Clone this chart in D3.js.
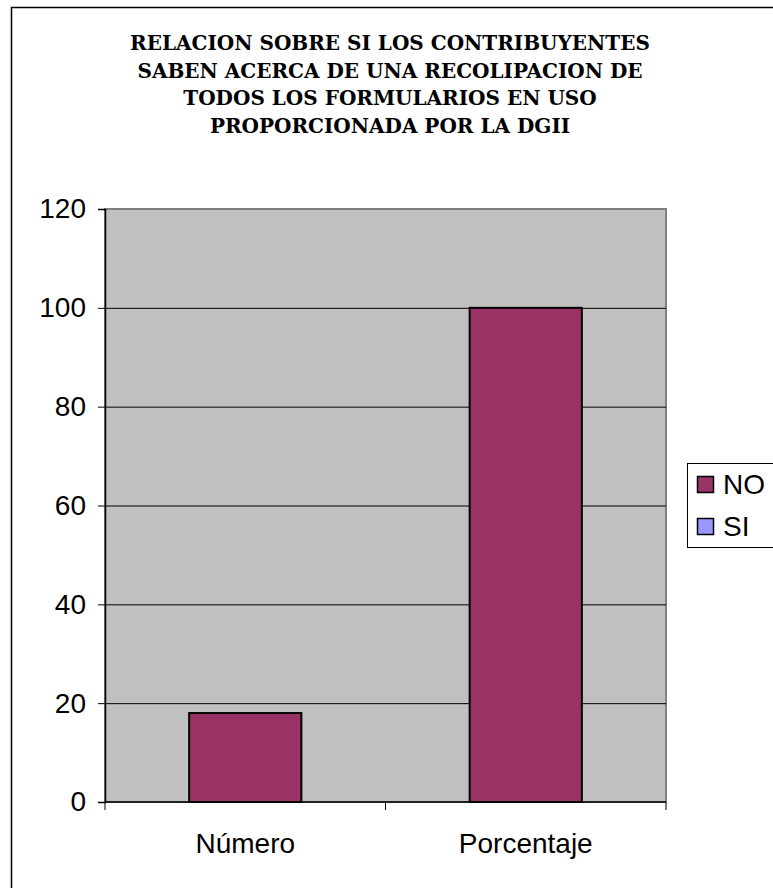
<!DOCTYPE html>
<html lang="es">
<head>
<meta charset="utf-8">
<script src="https://cdn.jsdelivr.net/npm/d3@7"></script>
<style>
  body { margin: 0; background: #fff; }
  svg { display: block; }
</style>
</head>
<body>
<script>
// data
var categories = ["Número", "Porcentaje"];
var seriesNames = ["NO", "SI"];
var noValues = [18, 100];
var siValues = [0, 0];
var yTicks = [0, 20, 40, 60, 80, 100, 120];
var titleLines = [
  "RELACION SOBRE SI LOS CONTRIBUYENTES",
  "SABEN ACERCA DE UNA RECOLIPACION DE",
  "TODOS LOS FORMULARIOS EN USO",
  "PROPORCIONADA POR LA DGII"
];
var colors = { NO: "#993366", SI: "#9999ff" };

var w = 773, h = 888;
var plot = { left: 105, right: 666, top: 209, bottom: 802 };
var labelFont = "'Liberation Sans', Arial, sans-serif";

var svg = d3.select("body").append("svg")
  .attr("width", w)
  .attr("height", h);

// outer chart frame (runs off the right/bottom edge)
svg.append("rect")
  .attr("x", 11.5).attr("y", 7.5)
  .attr("width", w + 10).attr("height", h + 10)
  .attr("fill", "#fff")
  .attr("stroke", "#000")
  .attr("stroke-width", 1.5);

var title = svg.append("text")
  .attr("text-anchor", "middle")
  .attr("font-family", "'DejaVu Serif', serif")
  .attr("font-weight", "bold")
  .attr("font-size", "20px")
  .attr("fill", "#000");
titleLines.forEach(function(line, i) {
  title.append("tspan")
    .attr("x", 390)
    .attr("y", 50 + i * 27.7)
    .text(line);
});

var xScale = d3.scaleBand()
  .domain(categories)
  .range([plot.left, plot.right])
  .paddingInner(0.6)
  .paddingOuter(0.3);

var yScale = d3.scaleLinear()
  .domain([0, 120])
  .range([plot.bottom, plot.top]);

// plot area
svg.append("rect")
  .attr("x", plot.left).attr("y", plot.top)
  .attr("width", plot.right - plot.left)
  .attr("height", plot.bottom - plot.top)
  .attr("fill", "#c0c0c0")
  .attr("stroke", "#808080")
  .attr("stroke-width", 2);

// gridlines
svg.append("g")
  .selectAll("line")
  .data(yTicks.filter(function(d) { return d > 0 && d < 120; }))
  .enter()
  .append("line")
  .attr("x1", plot.left).attr("x2", plot.right)
  .attr("y1", function(d) { return yScale(d) + 0.5; })
  .attr("y2", function(d) { return yScale(d) + 0.5; })
  .attr("stroke", "#000")
  .attr("stroke-width", 1);

// stacked bars
var table = categories.map(function(c, i) {
  return { cat: c, NO: noValues[i], SI: siValues[i] };
});
var stacked = d3.stack().keys(seriesNames)(table);

svg.append("g")
  .selectAll("g")
  .data(stacked)
  .enter()
  .append("g")
  .attr("fill", function(d) { return colors[d.key]; })
  .selectAll("rect")
  .data(function(d) { return d.filter(function(p) { return p[1] - p[0] > 0; }); })
  .enter()
  .append("rect")
  .attr("x", function(d) { return xScale(d.data.cat); })
  .attr("y", function(d) { return yScale(d[1]); })
  .attr("width", xScale.bandwidth())
  .attr("height", function(d) { return yScale(d[0]) - yScale(d[1]); })
  .attr("stroke", "#000")
  .attr("stroke-width", 2);

// y axis
var yAxis = d3.axisLeft(yScale).tickValues(yTicks).tickSize(7).tickPadding(12);
var yG = svg.append("g")
  .attr("transform", "translate(" + plot.left + ",0)")
  .call(yAxis);
yG.select(".domain").attr("stroke", "#000").attr("stroke-width", 1.5);
yG.selectAll(".tick line").attr("stroke", "#000");
yG.selectAll(".tick text")
  .attr("font-family", labelFont)
  .attr("font-size", "28px")
  .attr("fill", "#000");

// x axis
var xAxis = d3.axisBottom(xScale).tickSize(0).tickPadding(31);
var xG = svg.append("g")
  .attr("transform", "translate(0," + plot.bottom + ")")
  .call(xAxis);
xG.select(".domain").remove();
xG.append("line")
  .attr("x1", plot.left).attr("x2", plot.right)
  .attr("stroke", "#000").attr("stroke-width", 1.5);
xG.selectAll(".xsep")
  .data([plot.left, (plot.left + plot.right) / 2, plot.right])
  .enter()
  .append("line")
  .attr("x1", function(d) { return d; }).attr("x2", function(d) { return d; })
  .attr("y1", 0).attr("y2", 8)
  .attr("stroke", "#000");
xG.selectAll(".tick text")
  .attr("font-family", labelFont)
  .attr("font-size", "28px")
  .attr("fill", "#000");

// legend
var legend = svg.append("g").attr("transform", "translate(687,463)");
legend.append("rect")
  .attr("x", 0.5).attr("y", 0.5)
  .attr("width", 100).attr("height", 84)
  .attr("fill", "#fff")
  .attr("stroke", "#000");
seriesNames.forEach(function(name, i) {
  legend.append("rect")
    .attr("x", 10.5).attr("y", 13.5 + i * 42)
    .attr("width", 16).attr("height", 16)
    .attr("fill", colors[name])
    .attr("stroke", "#000")
    .attr("stroke-width", 1.5);
  legend.append("text")
    .attr("x", 36).attr("y", 31 + i * 42)
    .attr("font-family", labelFont)
    .attr("font-size", "28px")
    .attr("fill", "#000")
    .text(name);
});
</script>
</body>
</html>
